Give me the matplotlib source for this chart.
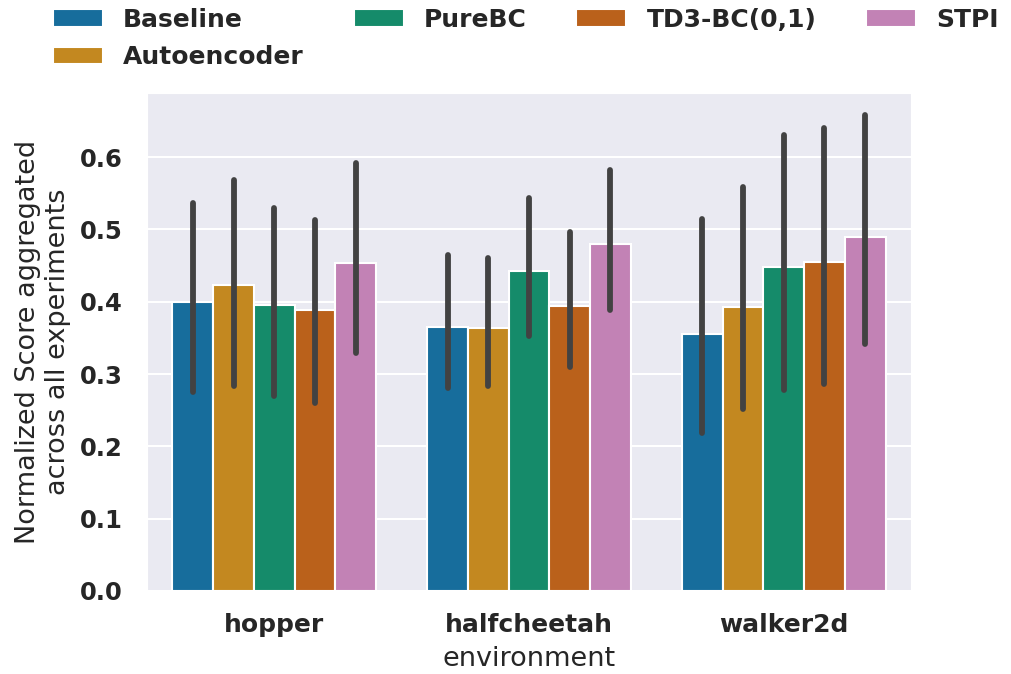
import numpy as np
import matplotlib
matplotlib.use("Agg")
import matplotlib.pyplot as plt
import seaborn as sns

environments = ["hopper", "halfcheetah", "walker2d"]
methods = ["Baseline", "Autoencoder", "PureBC", "TD3-BC(0,1)", "STPI"]

# mean values per method per environment
means = {
    "Baseline":    [0.399, 0.365, 0.355],
    "Autoencoder": [0.423, 0.364, 0.393],
    "PureBC":      [0.395, 0.442, 0.448],
    "TD3-BC(0,1)": [0.388, 0.394, 0.455],
    "STPI":        [0.454, 0.480, 0.490],
}
ci_low = {
    "Baseline":    [0.275, 0.280, 0.218],
    "Autoencoder": [0.283, 0.284, 0.251],
    "PureBC":      [0.270, 0.353, 0.278],
    "TD3-BC(0,1)": [0.260, 0.310, 0.286],
    "STPI":        [0.329, 0.389, 0.342],
}
ci_high = {
    "Baseline":    [0.536, 0.465, 0.514],
    "Autoencoder": [0.568, 0.460, 0.558],
    "PureBC":      [0.530, 0.543, 0.630],
    "TD3-BC(0,1)": [0.513, 0.497, 0.640],
    "STPI":        [0.592, 0.582, 0.658],
}
yticks = [0.0, 0.1, 0.2, 0.3, 0.4, 0.5, 0.6]

sns.set_style("darkgrid")
pal = [sns.desaturate(c, 0.75) for c in sns.color_palette("colorblind", 5)]

fig = plt.figure(figsize=(10.11, 6.74), dpi=100)
ax = fig.add_axes([147/1011, 1-591/674, (911-147)/1011, (591-93)/674])

n = len(methods)
width = 0.8 / n
x = np.arange(len(environments))
for i, m in enumerate(methods):
    pos = x - 0.4 + width * (i + 0.5)
    ax.bar(pos, means[m], width=width, color=pal[i], edgecolor="white",
           linewidth=1.5, label=m, zorder=2)
    ax.vlines(pos, ci_low[m], ci_high[m], color="#424242", linewidth=4.2,
              capstyle="round", zorder=3)

ax.set_xlim(-0.5, 2.5)
ax.set_ylim(0, 0.6885)
ax.set_yticks(yticks)
ax.set_yticklabels([f"{v:.1f}" for v in yticks], fontsize=17.5, fontweight="bold")
ax.set_xticks(x)
ax.set_xticklabels(environments, fontsize=18, fontweight="bold")
ax.tick_params(axis="y", pad=14)
ax.tick_params(axis="x", pad=12)
ax.set_xlabel("environment", fontsize=19.5, labelpad=7)
ax.set_ylabel("Normalized Score aggregated\nacross all experiments", fontsize=19.5,
              labelpad=6)
ax.grid(True, axis="y", color="white", linewidth=1.5)
ax.grid(False, axis="x")
ax.set_axisbelow(True)

leg = fig.legend(loc="upper left", bbox_to_anchor=(0.030, 1.022), ncol=4,
                 frameon=False, prop={"size": 18, "weight": "bold"},
                 handlelength=2.0, columnspacing=2.0, handletextpad=0.8,
                 labelspacing=0.55)

fig.savefig("out.png", dpi=100)
